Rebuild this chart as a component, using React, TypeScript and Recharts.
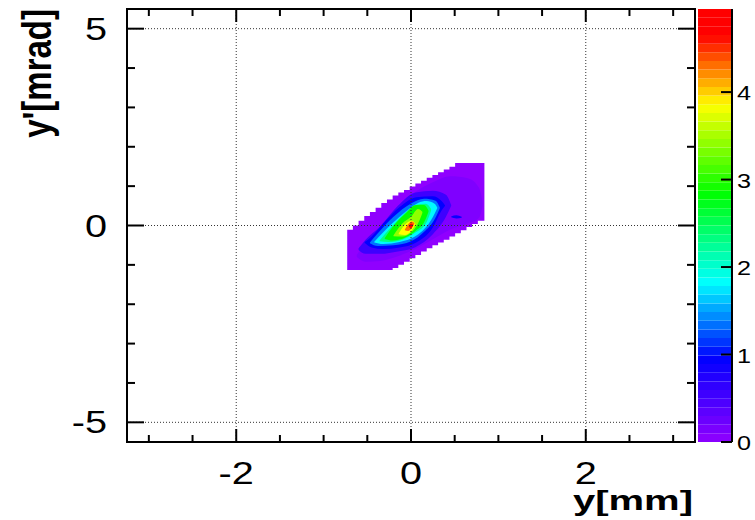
import React from 'react';
import { ComposedChart, Area, XAxis, YAxis, ReferenceLine, ReferenceArea } from 'recharts';

// axis setup
const xDomain = [-3.25, 3.25];
const yDomain = [-5.5, 5.5];
const zMax = 4.95;
const xTicks = [-3, -2.5, -2, -1.5, -1, -0.5, 0, 0.5, 1, 1.5, 2, 2.5, 3];
const xMajor = [-2, 0, 2];
const yTicks = [-5, -4, -3, -2, -1, 0, 1, 2, 3, 4, 5];
const yMajor = [-5, 0, 5];
const zTicks = [0, 1, 2, 3, 4];

// outer (lowest-bin) region of the histogram: bin left edges with lower / upper y'
const floorEdges = [-0.73, -0.665, -0.6, -0.535, -0.47, -0.405, -0.34, -0.275, -0.21, -0.145, -0.08, -0.015, 0.05, 0.115, 0.18, 0.245, 0.31, 0.375, 0.44, 0.505, 0.57, 0.635, 0.7, 0.765, 0.84];
const floorLo = [-1.13, -1.13, -1.13, -1.13, -1.13, -1.13, -1.13, -1.13, -1.08, -1.0, -0.92, -0.83, -0.75, -0.66, -0.58, -0.5, -0.43, -0.36, -0.28, -0.2, -0.12, -0.04, 0.04, 0.12, 0.19];
const floorHi = [-0.11, 0.0, 0.12, 0.24, 0.34, 0.45, 0.57, 0.66, 0.76, 0.84, 0.9, 0.99, 1.07, 1.14, 1.21, 1.28, 1.35, 1.42, 1.49, 1.59, 1.59, 1.59, 1.59, 1.59, 1.59];

// contour bands, each point is [y, y' low, y' high]
const haloOuter = [[-0.62, -0.8, -0.74], [-0.52, -0.92, -0.45], [-0.35, -0.9, -0.05], [-0.15, -0.78, 0.45], [0.05, -0.6, 0.85], [0.25, -0.35, 1.1], [0.45, -0.1, 1.25], [0.65, 0.05, 1.2], [0.78, 0.2, 0.95], [0.82, 0.5, 0.6]];
const haloInner = [[-0.6, -0.62, -0.58], [-0.52, -0.72, -0.36], [-0.35, -0.72, -0.02], [-0.15, -0.66, 0.5], [0.05, -0.55, 0.84], [0.25, -0.22, 0.88], [0.4, 0.22, 0.78], [0.46, 0.5, 0.52]];
const blueBand = [[-0.53, -0.44, -0.42], [-0.45, -0.56, -0.28], [-0.32, -0.6, 0.05], [-0.13, -0.56, 0.47], [0.06, -0.43, 0.72], [0.25, -0.05, 0.74], [0.35, 0.38, 0.62], [0.39, 0.5, 0.51]];
const skyBand = [[-0.47, -0.45, -0.43], [-0.38, -0.52, -0.2], [-0.2, -0.5, 0.22], [0.0, -0.4, 0.56], [0.15, -0.16, 0.68], [0.28, 0.2, 0.63], [0.33, 0.44, 0.46]];
const cyanBand = [[-0.42, -0.43, -0.41], [-0.32, -0.47, -0.18], [-0.13, -0.42, 0.22], [0.0, -0.33, 0.45], [0.08, -0.23, 0.57], [0.18, -0.02, 0.62], [0.27, 0.3, 0.55], [0.3, 0.44, 0.46]];
const mintBand = [[-0.36, -0.4, -0.38], [-0.26, -0.42, -0.12], [-0.1, -0.36, 0.25], [0.05, -0.18, 0.52], [0.17, 0.05, 0.55], [0.23, 0.38, 0.42]];
const greenBand = [[-0.3, -0.34, -0.32], [-0.21, -0.38, -0.04], [-0.06, -0.3, 0.31], [0.06, -0.12, 0.52], [0.15, 0.08, 0.52], [0.2, 0.35, 0.38]];
const limeBand = [[-0.2, -0.27, -0.25], [-0.1, -0.28, 0.05], [0.0, -0.18, 0.22], [0.08, 0.05, 0.42], [0.13, 0.32, 0.35]];
const yellowBand = [[-0.14, -0.22, -0.2], [-0.07, -0.24, 0.02], [0.01, -0.12, 0.12], [0.05, 0.03, 0.05]];
const orangeBand = [[-0.07, -0.12, -0.1], [-0.03, -0.14, 0.04], [0.01, -0.06, 0.1], [0.04, 0.05, 0.06]];
const redBand = [[-0.025, -0.04, -0.02], [0.0, -0.07, 0.05], [0.025, 0.0, 0.02]];
const blueSpot = [[0.46, 0.21, 0.23], [0.52, 0.18, 0.26], [0.58, 0.2, 0.22]];

const bandLevels = [0.12, 0.55, 0.95, 1.35, 1.8, 2.3, 2.85, 3.4, 3.85, 4.3, 4.8, 0.9];
const bandShapes = [haloOuter, haloInner, blueBand, skyBand, cyanBand, mintBand, greenBand, limeBand, yellowBand, orangeBand, redBand, blueSpot];

// colour palette (violet -> red), hue per z
const hueStops = [[0, 274], [0.96, 240], [1.82, 180], [2.84, 120], [3.85, 60], [4.65, 0]];
function zColor(z: number) {
  let h = 0;
  if (z <= hueStops[0][0]) h = hueStops[0][1];
  else if (z >= hueStops[hueStops.length - 1][0]) h = 0;
  else {
    for (let i = 0; i < hueStops.length - 1; i++) {
      const [z0, h0] = hueStops[i];
      const [z1, h1] = hueStops[i + 1];
      if (z >= z0 && z <= z1) h = h0 + ((z - z0) / (z1 - z0)) * (h1 - h0);
    }
  }
  return `hsl(${h.toFixed(1)}, 100%, 50%)`;
}

const W = 755;
const H = 520;
const plot = { left: 127, top: 9, right: 695, bottom: 442 };
const font = '"Liberation Sans", Arial, Helvetica, sans-serif';

const floorData = floorEdges.map((x, i) => ({ x, r: [floorLo[i], floorHi[i]] }));
const bands = bandShapes.map((pts, i) => ({
  z: bandLevels[i],
  data: pts.map(([x, lo, hi]) => ({ x, r: [lo, hi] })),
}));
const paletteSteps = 50;
const palette = Array.from({ length: paletteSteps }, (_, i) => ({
  lo: (i * zMax) / paletteSteps,
  hi: ((i + 1) * zMax) / paletteSteps,
}));

function XTick(props: any) {
  const { x, payload } = props;
  const v = payload.value;
  const major = xMajor.includes(v);
  const len = major ? 13 : 7;
  return (
    <g>
      <line x1={x} x2={x} y1={plot.bottom} y2={plot.bottom - len} stroke="#000" strokeWidth={2} />
      <line x1={x} x2={x} y1={plot.top} y2={plot.top + len} stroke="#000" strokeWidth={2} />
      {major && (
        <text transform={`translate(${x},${plot.bottom + 42}) scale(1.28,1)`} textAnchor="middle" fontSize={31} fontFamily={font} fill="#000">
          {v}
        </text>
      )}
    </g>
  );
}

function YTick(props: any) {
  const { y, payload } = props;
  const v = payload.value;
  const major = yMajor.includes(v);
  const len = major ? 17 : 8;
  return (
    <g>
      <line x1={plot.left} x2={plot.left + len} y1={y} y2={y} stroke="#000" strokeWidth={2} />
      <line x1={plot.right} x2={plot.right - len} y1={y} y2={y} stroke="#000" strokeWidth={2} />
      {major && (
        <text transform={`translate(${plot.left - 20},${y + 11}) scale(1.28,1)`} textAnchor="end" fontSize={31} fontFamily={font} fill="#000">
          {v}
        </text>
      )}
    </g>
  );
}

function ZTick(props: any) {
  const { x, y, payload } = props;
  return (
    <g>
      <line x1={x} x2={x - 11} y1={y} y2={y} stroke="#000" strokeWidth={2} />
      <text transform={`translate(${x + 5},${y + 8}) scale(1.2,1)`} textAnchor="start" fontSize={21} fontFamily={font} fill="#000">
        {payload.value}
      </text>
    </g>
  );
}

export default function App() {
  return (
    <div style={{ position: 'absolute', left: 0, top: 0, width: W, height: H, background: '#fff' }}>
      <div style={{ position: 'absolute', left: 0, top: 0 }}>
        <ComposedChart width={W} height={H} margin={{ top: plot.top, right: W - plot.right, bottom: 0, left: 0 }}>
          <XAxis
            type="number"
            dataKey="x"
            domain={xDomain}
            allowDataOverflow
            ticks={xTicks}
            interval={0}
            height={H - plot.bottom}
            tickSize={0}
            tickMargin={0}
            axisLine={false}
            tick={<XTick />}
          />
          <YAxis
            type="number"
            domain={yDomain}
            allowDataOverflow
            ticks={yTicks}
            interval={0}
            width={plot.left}
            tickSize={0}
            tickMargin={0}
            axisLine={false}
            tick={<YTick />}
          />
          <Area
            data={floorData}
            dataKey="r"
            type="stepAfter"
            fill={zColor(0)}
            fillOpacity={1}
            stroke="none"
            isAnimationActive={false}
          />
          {bands.map((b, i) => (
            <Area
              key={i}
              data={b.data}
              dataKey="r"
              type="monotone"
              fill={zColor(b.z)}
              fillOpacity={1}
              stroke="none"
              isAnimationActive={false}
            />
          ))}
          {xMajor.map((v) => (
            <ReferenceLine key={'gx' + v} x={v} stroke="#333" strokeWidth={1} strokeDasharray="1 2" />
          ))}
          {yMajor.map((v) => (
            <ReferenceLine key={'gy' + v} y={v} stroke="#333" strokeWidth={1} strokeDasharray="1 2" />
          ))}
          <ReferenceArea
            x1={xDomain[0]}
            x2={xDomain[1]}
            y1={yDomain[0]}
            y2={yDomain[1]}
            fill="none"
            stroke="#000"
            strokeWidth={2}
            ifOverflow="visible"
          />
        </ComposedChart>
      </div>
      <div style={{ position: 'absolute', left: 698, top: 0 }}>
        <ComposedChart
          width={W - 698}
          height={H}
          data={zTicks.map((z) => ({ x: 0.5, z }))}
          margin={{ top: plot.top, right: 0, bottom: H - plot.bottom, left: 0 }}
        >
          <XAxis type="number" dataKey="x" domain={[0, 1]} hide />
          <YAxis
            type="number"
            orientation="right"
            domain={[0, zMax]}
            allowDataOverflow
            ticks={zTicks}
            interval={0}
            width={23}
            tickSize={0}
            tickMargin={0}
            axisLine={{ stroke: '#000', strokeWidth: 2 }}
            tick={<ZTick />}
          />
          {palette.map((p, i) => (
            <ReferenceArea
              key={i}
              x1={0}
              x2={1}
              y1={p.lo}
              y2={p.hi}
              fill={zColor((p.lo + p.hi) / 2)}
              fillOpacity={1}
              stroke="none"
              ifOverflow="visible"
            />
          ))}
        </ComposedChart>
      </div>
      <svg width={W} height={H} style={{ position: 'absolute', left: 0, top: 0, pointerEvents: 'none' }}>
        <text transform={`translate(693,510) scale(1.43,1)`} textAnchor="end" fontSize={28} fontWeight="bold" fontFamily={font} fill="#000">
          y[mm]
        </text>
        <text transform={`translate(51,9) scale(1.25,1) rotate(-90)`} textAnchor="end" fontSize={33} fontWeight="bold" fontFamily={font} fill="#000">
          y'[mrad]
        </text>
      </svg>
    </div>
  );
}
